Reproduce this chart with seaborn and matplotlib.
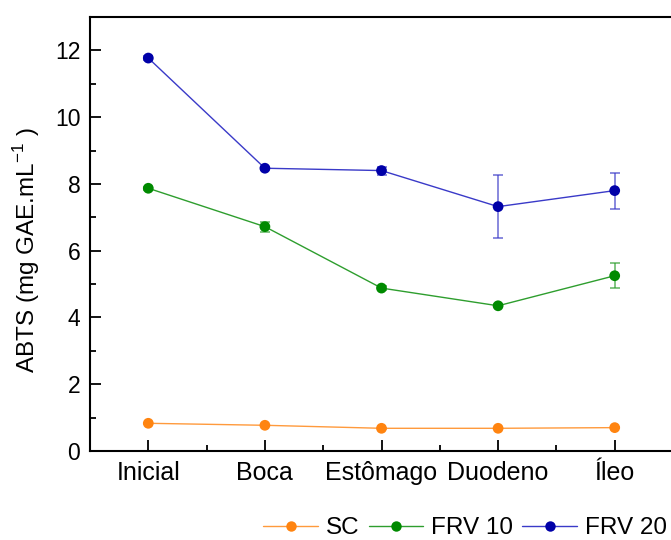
import matplotlib
matplotlib.use("Agg")
import matplotlib.pyplot as plt
import seaborn as sns
import pandas as pd
from matplotlib.ticker import MultipleLocator
from matplotlib.lines import Line2D

categories = ["Inicial", "Boca", "Estômago", "Duodeno", "Íleo"]
series_names = ["SC", "FRV 10", "FRV 20"]
sc_vals = [0.83, 0.77, 0.68, 0.68, 0.70]
sc_err = [0.02, 0.02, 0.02, 0.02, 0.02]
frv10_vals = [7.87, 6.72, 4.88, 4.35, 5.25]
frv10_err = [0.05, 0.15, 0.05, 0.05, 0.38]
frv20_vals = [11.77, 8.47, 8.40, 7.32, 7.80]
frv20_err = [0.05, 0.05, 0.12, 0.95, 0.54]
yticks = [0, 2, 4, 6, 8, 10, 12]

colors = {"SC": "#FF8410", "FRV 10": "#008A00", "FRV 20": "#0000A8"}
line_colors = {"SC": "#FF9A3C", "FRV 10": "#2E9E2E", "FRV 20": "#3A3AC8"}

vals = {"SC": sc_vals, "FRV 10": frv10_vals, "FRV 20": frv20_vals}
errs = {"SC": sc_err, "FRV 10": frv10_err, "FRV 20": frv20_err}

rows = []
for s in series_names:
    for i, c in enumerate(categories):
        rows.append({"pos": i, "cat": c, "series": s, "val": vals[s][i], "err": errs[s][i]})
df = pd.DataFrame(rows)

sns.set_style("ticks")
plt.rcParams["font.family"] = ["Liberation Sans", "DejaVu Sans"]
plt.rcParams["text.color"] = "black"
plt.rcParams["axes.labelcolor"] = "black"
plt.rcParams["xtick.color"] = "black"
plt.rcParams["ytick.color"] = "black"
plt.rcParams["axes.edgecolor"] = "black"

fig = plt.figure(figsize=(6.71, 5.40), dpi=100)
ax = fig.add_axes([90 / 671, 89 / 540, 583 / 671, 434 / 540])

for s in series_names:
    d = df[df.series == s]
    ax.errorbar(d["pos"], d["val"], yerr=d["err"], fmt="none", ecolor=line_colors[s],
                elinewidth=1.2, capsize=3.3, capthick=1.2, alpha=0.7, zorder=2)

sns.lineplot(data=df, x="pos", y="val", hue="series", hue_order=series_names,
             palette=line_colors, linewidth=1.0, errorbar=None, ax=ax, legend=False, zorder=3)
sns.scatterplot(data=df, x="pos", y="val", hue="series", hue_order=series_names,
                palette=colors, s=60, edgecolor="none", ax=ax, legend=False, zorder=4)

ax.set_xlim(-0.5, 4.5)
ax.set_ylim(0, 13)
ax.set_xticks(range(len(categories)))
ax.set_xticklabels(categories, fontsize=18)
ax.set_yticks(yticks)
ax.set_yticklabels([str(t) for t in yticks], fontsize=16.5)
ax.xaxis.set_minor_locator(MultipleLocator(0.5))
ax.yaxis.set_minor_locator(MultipleLocator(1))
ax.tick_params(which="major", direction="in", length=8, width=1.3)
ax.tick_params(which="minor", direction="in", length=4, width=1.3)
ax.tick_params(axis="x", which="major", pad=7)
ax.tick_params(axis="y", which="major", pad=7)
ax.tick_params(axis="x", which="both", top=False)
ax.tick_params(axis="y", which="both", right=False)
for sp in ax.spines.values():
    sp.set_linewidth(1.5)
    sp.set_visible(True)
ax.set_xlabel("")
ax.set_ylabel("ABTS (mg GAE.mL$^{\\mathregular{-1}}$ )", fontsize=17.5)
ax.yaxis.set_label_coords(-0.083, 0.463)

handles = [Line2D([0], [0], color=line_colors[s], lw=1.0, marker="o", markersize=7.5,
                  markerfacecolor=colors[s], markeredgecolor="none") for s in series_names]
fig.legend(handles, series_names, loc="center right", bbox_to_anchor=(667 / 671, 12 / 540),
           ncol=3, frameon=False, fontsize=17.5, handlelength=2.25, handletextpad=0.33,
           columnspacing=0.37, borderpad=0, borderaxespad=0)

fig.savefig("out.png", dpi=100)
